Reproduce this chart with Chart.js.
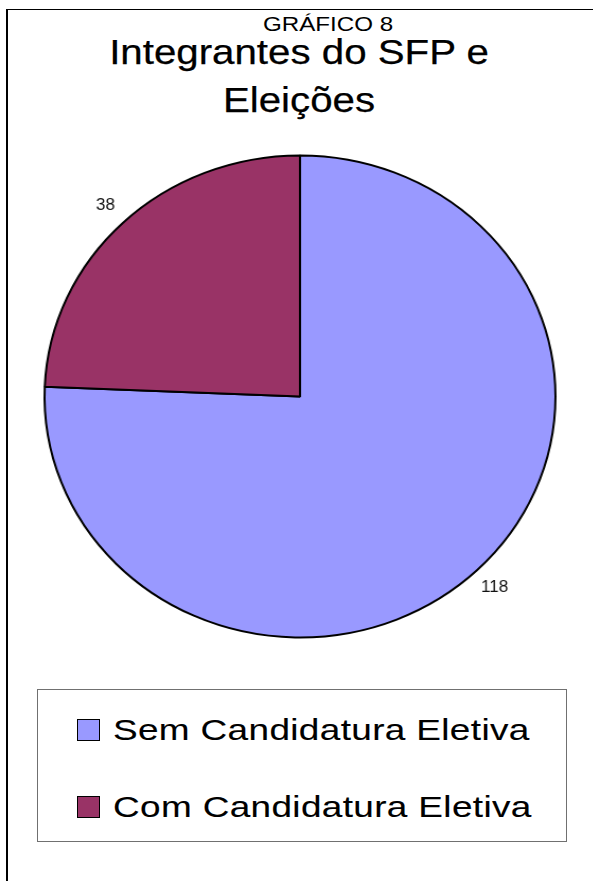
<!DOCTYPE html>
<html>
<head>
<meta charset="utf-8">
<title>GRÁFICO 8</title>
<script src="https://cdn.jsdelivr.net/npm/chart.js@4/dist/chart.umd.min.js"></script>
<style>
  html, body { margin: 0; padding: 0; background: #fff; }
  #page {
    position: relative; width: 593px; height: 881px; overflow: hidden;
    font-family: "Liberation Sans", Arial, sans-serif; color: #000;
  }
  #frame {
    position: absolute; left: 6px; top: 9px; width: 700px; height: 1000px;
    border-left: 2px solid #000; border-top: 1.5px solid #000;
  }
  .title {
    position: absolute; white-space: nowrap; line-height: 1;
    transform: translateX(-50%) scaleX(1.15);
    -webkit-text-stroke: 0.25px #000;
  }
  #t0 { -webkit-text-stroke: 0; }
  #pieBox {
    position: absolute; left: 20px; top: 136px; width: 560px; height: 521px;
    transform: scaleX(1.06); transform-origin: 280px 260px;
  }
  #legend {
    position: absolute; left: 37px; top: 689px; width: 530px; height: 153px;
    box-sizing: border-box; border: 1.5px solid #707070;
  }
  .item { position: absolute; left: 0; }
  .swatch {
    position: absolute; width: 23px; height: 22px; box-sizing: border-box;
    border: 1.6px solid #000;
  }
  .label {
    position: absolute; white-space: nowrap; font-size: 30px; line-height: 1;
    transform: scaleX(1.23); transform-origin: left center; letter-spacing: 0.3px;
    -webkit-text-stroke: 0.12px #000;
  }
</style>
</head>
<body>
<div id="page">
  <div id="frame"></div>
  <div class="title" id="t0" style="left:328px; top:13px; font-size:21px;"></div>
  <div class="title" id="t1" style="left:299px; top:34px; font-size:35px;"></div>
  <div class="title" id="t2" style="left:299px; top:82px; font-size:35px;"></div>
  <div id="pieBox"><canvas id="pie" width="560" height="521"></canvas></div>
  <div id="legend"></div>
</div>
<script>
// Chart heading, one entry per line
const headingLines = ["GRÁFICO 8", "Integrantes do SFP e", "Eleições"];

// Slices, in drawing order (clockwise from 12 o'clock)
const categories = ["Sem Candidatura Eletiva", "Com Candidatura Eletiva"];
const counts = [118, 38];
const sliceColors = ["#9999ff", "#993366"];

headingLines.forEach((line, i) => {
  document.getElementById("t" + i).textContent = line;
});

// Value labels placed just outside each slice, at its middle angle
const outsideLabels = {
  id: "outsideLabels",
  afterDatasetsDraw(chart) {
    const ctx = chart.ctx;
    const meta = chart.getDatasetMeta(0);
    const values = chart.data.datasets[0].data;
    ctx.save();
    ctx.font = '16px "Liberation Sans", Arial, sans-serif';
    ctx.fillStyle = "#111";
    ctx.textAlign = "center";
    ctx.textBaseline = "middle";
    meta.data.forEach((arc, i) => {
      const p = arc.getProps(["x", "y", "startAngle", "endAngle", "outerRadius"], true);
      const mid = (p.startAngle + p.endAngle) / 2;
      const r = p.outerRadius + 24;
      ctx.fillText(String(values[i]), p.x + Math.cos(mid) * r, p.y + Math.sin(mid) * r);
    });
    ctx.restore();
  }
};

new Chart(document.getElementById("pie"), {
  type: "pie",
  data: {
    labels: categories,
    datasets: [{
      data: counts,
      backgroundColor: sliceColors,
      borderColor: "#000",
      borderWidth: 2,
      hoverOffset: 0
    }]
  },
  options: {
    responsive: false,
    animation: false,
    radius: 241,
    layout: { padding: 0 },
    events: [],
    plugins: {
      legend: { display: false },
      title: { display: false },
      tooltip: { enabled: false }
    }
  },
  plugins: [outsideLabels]
});

// Legend rows built from the same categories and colours
const legend = document.getElementById("legend");
const rowTops = [29, 106];
categories.forEach((name, i) => {
  const item = document.createElement("div");
  item.className = "item";
  item.style.top = rowTops[i] + "px";
  const sw = document.createElement("div");
  sw.className = "swatch";
  sw.style.left = "39px";
  sw.style.top = "0px";
  sw.style.background = sliceColors[i];
  const tx = document.createElement("div");
  tx.className = "label";
  tx.style.left = "75px";
  tx.style.top = "-4px";
  tx.textContent = name;
  item.appendChild(sw);
  item.appendChild(tx);
  legend.appendChild(item);
});
</script>
</body>
</html>
